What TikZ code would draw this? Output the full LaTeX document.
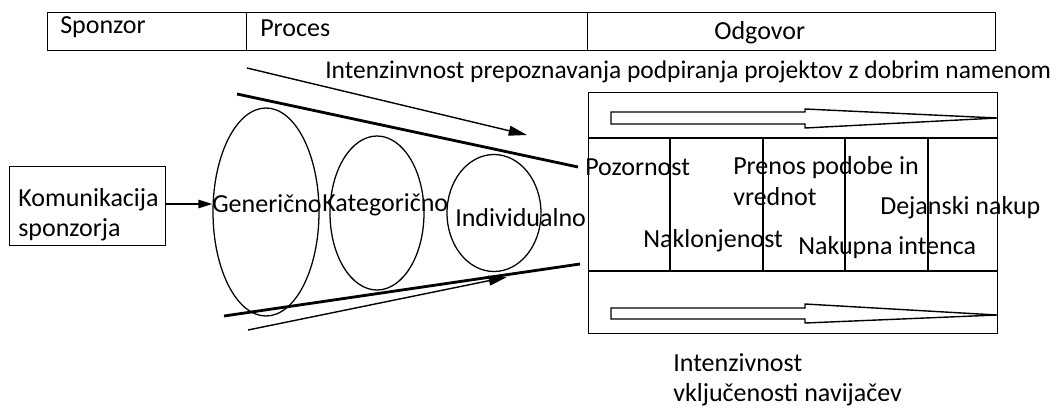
\documentclass[tikz,border=0pt]{standalone}
\usepackage{fontspec}
\setmainfont{Carlito}
\usetikzlibrary{arrows.meta, positioning, shapes.geometric}
\tikzset{
    txt/.style={inner sep=0pt, anchor=west, align=left, font=\fontsize{18.5}{21.5}\selectfont},
    frame/.style={draw, line width=1pt},
    circ/.style={draw, ellipse, line width=0.9pt, inner sep=0pt},
    funnel/.style={line width=2pt},
    flow/.style={line width=1pt, -{Triangle[length=13pt, width=7pt]}},
    hollow/.style={draw, line width=1pt, line join=miter},
}

\begin{document}
\begin{tikzpicture}[x=0.025cm, y=-0.025cm]
    \useasboundingbox (0,0) rectangle (1059,409);

    % top bar
    \node[frame, minimum width=199*0.025cm, minimum height=38*0.025cm, anchor=north west, inner sep=0pt] (spon) at (47,12) {};
    \node[frame, minimum width=341*0.025cm, minimum height=38*0.025cm, anchor=north west, inner sep=0pt] (proc) at (246,12) {};
    \node[frame, minimum width=408*0.025cm, minimum height=38*0.025cm, anchor=north west, inner sep=0pt] (odg) at (587,12) {};
    \node[txt] (sponT) at (60,27) {Sponzor};
    \node[txt] (procT) at (260,28) {Proces};
    \node[txt] (odgT) at (714,33) {Odgovor};

    \node[txt, font=\fontsize{18.1}{21.5}\selectfont] (prep) at (325,72) {Intenzinvnost prepoznavanja podpiranja projektov z dobrim namenom};

    % sponsor box
    \node[frame, minimum width=156*0.025cm, minimum height=79*0.025cm, anchor=north west, inner sep=0pt] (kom) at (9,166) {};
    \node[txt] (komT) at (18,215) {Komunikacija\\sponzorja};

    % process ellipses
    \node[circ, minimum width=106*0.025cm, minimum height=208*0.025cm] (gen) at (266,212) {};
    \node[circ, minimum width=94*0.025cm, minimum height=154*0.025cm] (kat) at (377,213) {};
    \node[circ, minimum width=94*0.025cm, minimum height=117*0.025cm] (ind) at (494,213) {};
    \node[txt] (genT) at (212,204) {Generično};
    \node[txt] (katT) at (322,205) {Kategorično};
    \node[txt] (indT) at (455,218) {Individualno};

    \draw[line width=1pt, -{Triangle[length=10pt, width=6pt]}] (kom.east |- 0,204) -- (gen.west |- 0,204);

    % funnel
    \coordinate (ft1) at (237,94);
    \coordinate (ft2) at (578,167);
    \coordinate (fb1) at (224,316);
    \coordinate (fb2) at (580,264);
    \draw[funnel] (ft1) -- (ft2);
    \draw[funnel] (fb1) -- (fb2);
    \coordinate (at1) at (247,68);
    \coordinate (at2) at (527,135);
    \coordinate (ab1) at (248,330);
    \coordinate (ab2) at (507,277);
    \draw[flow] (at1) -- (at2);
    \draw[flow] (ab1) -- (ab2);

    % response box
    \node[frame, minimum width=409*0.025cm, minimum height=241*0.025cm, anchor=north west, inner sep=0pt] (resp) at (588,92) {};
    \coordinate (h1) at (588,138);
    \coordinate (h2) at (588,271);
    \draw[line width=1pt] (h1) -- (h1 -| resp.east);
    \draw[line width=1pt] (h2) -- (h2 -| resp.east);
    \foreach \xx in {670,763,845,928}
        \draw[line width=1pt] (\xx,138) -- (\xx,271);

    % hollow arrows
    \draw[hollow] (611,112) -- (805,112) -- (805,109) -- (997,118) -- (805,128) -- (805,124) -- (611,124) -- cycle;
    \draw[hollow] (611,308) -- (805,308) -- (805,304) -- (997,315) -- (805,323) -- (805,319) -- (611,319) -- cycle;

    \node[txt] (poz) at (585,167) {Pozornost};
    \node[txt] (pren) at (733,181) {Prenos podobe in\\vrednot};
    \node[txt] (dej) at (880,208) {Dejanski nakup};
    \node[txt] (nakl) at (643,241) {Naklonjenost};
    \node[txt] (naku) at (798,248) {Nakupna intenca};

    \node[txt] (vklj) at (673,380) {Intenzivnost\\vključenosti navijačev};
\end{tikzpicture}
\end{document}
